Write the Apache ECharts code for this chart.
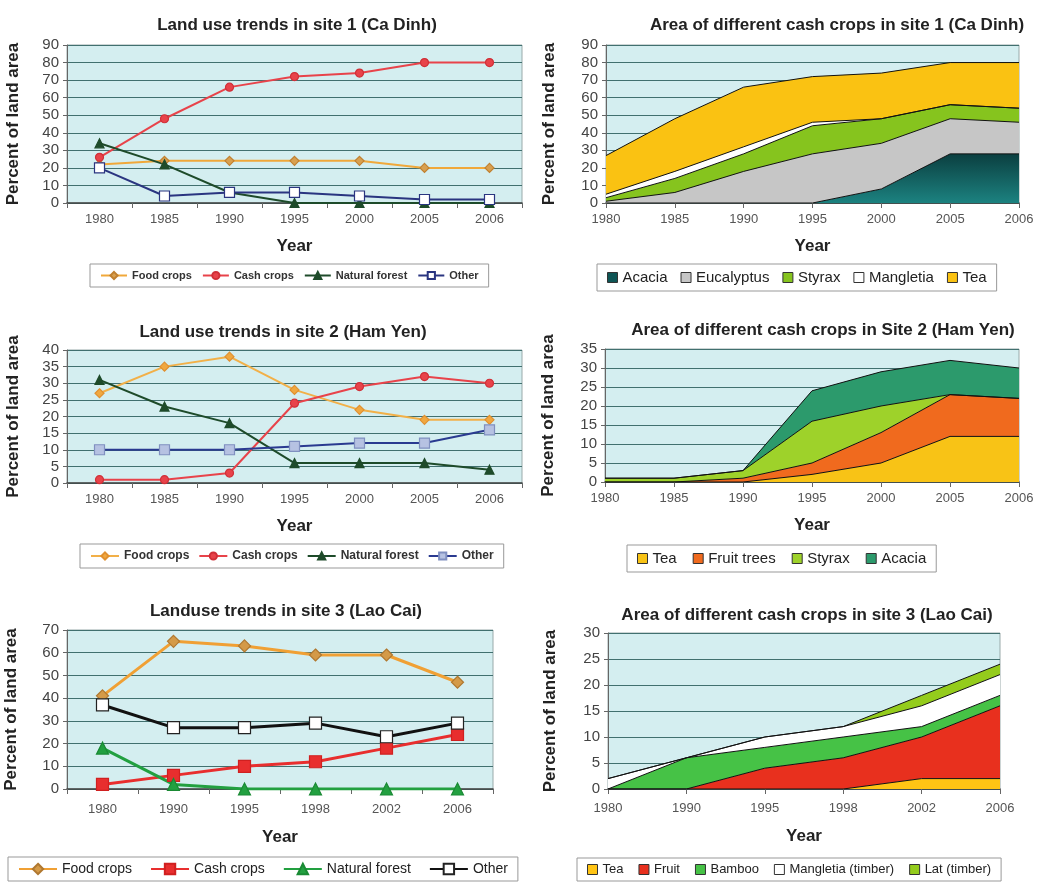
<!DOCTYPE html>
<html><head><meta charset="utf-8">
<script src="https://cdn.jsdelivr.net/npm/echarts@6/dist/echarts.min.js"></script>
<style>html,body{margin:0;padding:0;background:#fff}#c{width:1038px;height:884px}</style>
</head><body><div id="c"></div><script>
// ---- categories ----
const years1 = ['1980','1985','1990','1995','2000','2005','2006'];
const years3 = ['1980','1990','1995','1998','2002','2006'];

// ---- Site 1 land use ----
const s1Food   = [22, 24, 24, 24, 24, 20, 20];
const s1Cash   = [26, 48, 66, 72, 74, 80, 80];
const s1Forest = [34, 22, 6, 0, 0, 0, 0];
const s1Other  = [20, 4, 6, 6, 4, 2, 2];

// ---- Site 1 cash crops (stacked) ----
const c1Acacia     = [0, 0, 0, 0, 8, 28, 28];
const c1Eucalyptus = [1, 6, 18, 28, 26, 20, 18];
const c1Styrax     = [2, 8, 10, 16, 14, 8, 8];
const c1Mangletia  = [2, 4, 4, 2, 0, 0, 0];
const c1Tea        = [22, 30, 34, 26, 26, 24, 26];

// ---- Site 2 land use ----
const s2Food   = [27, 35, 38, 28, 22, 19, 19];
const s2Cash   = [1, 1, 3, 24, 29, 32, 30];
const s2Forest = [31, 23, 18, 6, 6, 6, 4];
const s2Other  = [10, 10, 10, 11, 12, 12, 16];

// ---- Site 2 cash crops (stacked) ----
const c2Tea    = [0, 0, 0, 2, 5, 12, 12];
const c2Fruit  = [0, 0, 1, 3, 8, 11, 10];
const c2Styrax = [1, 1, 2, 11, 7, 0, 0];
const c2Acacia = [0, 0, 0, 8, 9, 9, 8];

// ---- Site 3 land use ----
const s3Food   = [41, 65, 63, 59, 59, 47];
const s3Cash   = [2, 6, 10, 12, 18, 24];
const s3Forest = [18, 2, 0, 0, 0, 0];
const s3Other  = [37, 27, 27, 29, 23, 29];

// ---- Site 3 cash crops (stacked) ----
const c3Tea       = [0, 0, 0, 0, 2, 2];
const c3Fruit     = [0, 0, 4, 6, 8, 14];
const c3Bamboo    = [0, 6, 4, 4, 2, 2];
const c3Mangletia = [2, 0, 2, 2, 4, 4];
const c3Lat       = [0, 0, 0, 0, 2, 2];

// ---- titles / names ----
const titles = [
  'Land use trends in site 1 (Ca Dinh)',
  'Area of different cash crops in site 1 (Ca Dinh)',
  'Land use trends in site 2 (Ham Yen)',
  'Area of different cash crops in Site 2 (Ham Yen)',
  'Landuse trends in site 3 (Lao Cai)',
  'Area of different cash crops in site 3 (Lao Cai)'
];
const lineNames = ['Food crops','Cash crops','Natural forest','Other'];
const crops1 = ['Acacia','Eucalyptus','Styrax','Mangletia','Tea'];
const crops2 = ['Tea','Fruit trees','Styrax','Acacia'];
const crops3 = ['Tea','Fruit','Bamboo','Mangletia (timber)','Lat (timber)'];
const yName = 'Percent of land area';
const xName = 'Year';

const FONT = "'Liberation Sans', Arial, sans-serif";
const chart = echarts.init(document.getElementById('c'), null, {renderer: 'canvas'});

const PLOT_BG = '#D4EEF0';
const GRIDLINE = '#41706F';

const grids = [
  {left: 67,  top: 45,  width: 455, height: 158},
  {left: 606, top: 45,  width: 413, height: 158},
  {left: 67,  top: 350, width: 455, height: 133},
  {left: 605, top: 349, width: 414, height: 133},
  {left: 67,  top: 630, width: 426, height: 159},
  {left: 608, top: 633, width: 392, height: 156}
].map(g => Object.assign({show: true, backgroundColor: PLOT_BG, borderColor: '#9aa', borderWidth: 1, containLabel: false}, g));

function yAx(gi, max, interval, gap) {
  return {
    type: 'value', gridIndex: gi, min: 0, max: max, interval: interval,
    name: yName, nameLocation: 'middle', nameGap: gap,
    nameTextStyle: {fontSize: 17, fontWeight: 'bold', color: '#222', fontFamily: FONT},
    axisLine: {show: true, lineStyle: {color: '#666'}},
    axisTick: {show: true, length: 4, lineStyle: {color: '#666'}},
    axisLabel: {fontSize: 15, color: '#444', margin: 8, fontFamily: FONT},
    splitLine: {show: true, lineStyle: {color: GRIDLINE, width: 1}}
  };
}
function xAx(gi, data, bgap, margin, gap) {
  return {
    type: 'category', gridIndex: gi, data: data, boundaryGap: bgap,
    name: xName, nameLocation: 'middle', nameGap: gap,
    nameTextStyle: {fontSize: 17, fontWeight: 'bold', color: '#222', fontFamily: FONT},
    axisLine: {show: true, lineStyle: {color: '#444', width: 1.5}},
    axisTick: {show: true, length: 5, lineStyle: {color: '#666'}},
    axisLabel: {fontSize: 13, color: '#555', margin: margin, fontFamily: FONT, interval: 0},
    splitLine: {show: false}
  };
}

// style specs: [symbol, line colour, symbol fill, symbol border, line width, symbol size]
const st = {
  p1: {
    'Food crops':     ['diamond', '#F0A83A', '#D8A050', '#C08030', 2, 9],
    'Cash crops':     ['circle', '#E8434A', '#E8434A', '#D03038', 2, 8],
    'Natural forest': ['triangle', '#1E4B2A', '#1E4B2A', '#1E4B2A', 2, 9],
    'Other':          ['rect', '#2A3580', '#FFFFFF', '#2A3580', 2, 10]
  },
  p3: {
    'Food crops':     ['diamond', '#F2B048', '#F0A840', '#E09030', 2, 9],
    'Cash crops':     ['circle', '#E8434A', '#E8434A', '#D03038', 2, 8],
    'Natural forest': ['triangle', '#1E4B2A', '#1E4B2A', '#1E4B2A', 2, 9],
    'Other':          ['rect', '#2A3A90', '#B6C2E2', '#8090C0', 2, 10]
  },
  p5: {
    'Food crops':     ['diamond', '#F0A034', '#D49A48', '#B07830', 3, 12],
    'Cash crops':     ['rect', '#E82E2E', '#E82E2E', '#D02020', 3, 12],
    'Natural forest': ['triangle', '#22A040', '#22A040', '#1A8A34', 3, 12],
    'Other':          ['rect', '#111111', '#FFFFFF', '#222222', 3, 12]
  }
};
const acaciaGrad = new echarts.graphic.LinearGradient(0, 0, 0, 1, [
  {offset: 0, color: '#0B3F40'}, {offset: 1, color: '#1C8280'}
]);
const areaCol = {
  p2: {'Acacia': acaciaGrad, 'Eucalyptus': '#C6C6C6', 'Styrax': '#86C41E', 'Mangletia': '#FFFFFF', 'Tea': '#FAC212'},
  p4: {'Tea': '#F8C316', 'Fruit trees': '#F06A1E', 'Styrax': '#9ED22A', 'Acacia': '#2C9A6C'},
  p6: {'Tea': '#FFC414', 'Fruit': '#E8301E', 'Bamboo': '#46C246', 'Mangletia (timber)': '#FFFFFF', 'Lat (timber)': '#94CC1C'}
};
const SEP = '#';
const key = (panel, name) => name + SEP + panel;   // unique series id per panel; legend shows only the name

function L(panel, gi, name, data) {
  const s = st[panel][name];
  return {
    type: 'line', name: key(panel, name), xAxisIndex: gi, yAxisIndex: gi, data: data,
    symbol: s[0], symbolSize: s[5], showSymbol: true,
    lineStyle: {color: s[1], width: s[4]},
    itemStyle: {color: s[2], borderColor: s[3], borderWidth: 1.2},
    emphasis: {disabled: true}, animation: false, z: 3
  };
}
function A(panel, gi, name, data) {
  const c = areaCol[panel][name];
  return {
    type: 'line', name: key(panel, name), xAxisIndex: gi, yAxisIndex: gi, data: data, stack: panel,
    symbol: 'none', showSymbol: false,
    lineStyle: {color: '#111', width: 1},
    areaStyle: {color: c, opacity: 1},
    itemStyle: {color: c, borderColor: '#222', borderWidth: 1},
    emphasis: {disabled: true}, animation: false, z: 2
  };
}
function legArea(panel, name) {
  let c = areaCol[panel][name];
  if (typeof c !== 'string') c = '#0E5555';
  return {name: key(panel, name), icon: 'rect', itemStyle: {color: c, borderColor: '#333', borderWidth: 1}};
}

const series = [
  L('p1', 0, 'Food crops', s1Food),
  L('p1', 0, 'Cash crops', s1Cash),
  L('p1', 0, 'Natural forest', s1Forest),
  L('p1', 0, 'Other', s1Other),
  A('p2', 1, 'Acacia', c1Acacia),
  A('p2', 1, 'Eucalyptus', c1Eucalyptus),
  A('p2', 1, 'Styrax', c1Styrax),
  A('p2', 1, 'Mangletia', c1Mangletia),
  A('p2', 1, 'Tea', c1Tea),
  L('p3', 2, 'Food crops', s2Food),
  L('p3', 2, 'Cash crops', s2Cash),
  L('p3', 2, 'Natural forest', s2Forest),
  L('p3', 2, 'Other', s2Other),
  A('p4', 3, 'Tea', c2Tea),
  A('p4', 3, 'Fruit trees', c2Fruit),
  A('p4', 3, 'Styrax', c2Styrax),
  A('p4', 3, 'Acacia', c2Acacia),
  L('p5', 4, 'Food crops', s3Food),
  L('p5', 4, 'Cash crops', s3Cash),
  L('p5', 4, 'Natural forest', s3Forest),
  L('p5', 4, 'Other', s3Other),
  A('p6', 5, 'Tea', c3Tea),
  A('p6', 5, 'Fruit', c3Fruit),
  A('p6', 5, 'Bamboo', c3Bamboo),
  A('p6', 5, 'Mangletia (timber)', c3Mangletia),
  A('p6', 5, 'Lat (timber)', c3Lat)
];

function legendBox(data, left, top, opts) {
  return Object.assign({
    show: true, left: left, top: top, orient: 'horizontal',
    data: data,
    formatter: n => n.split(SEP)[0],
    borderColor: '#999', borderWidth: 1, padding: [6, 10],
    itemGap: 10,
    selectedMode: false
  }, opts);
}

const option = {
  animation: false,
  backgroundColor: '#ffffff',
  textStyle: {fontFamily: FONT},
  title: titles.map((t, i) => ({
    text: t, textAlign: 'center',
    left: [292, 832, 278, 818, 281, 802][i],
    top: [12, 12, 319, 317, 598, 602][i],
    textStyle: {fontSize: 17, fontWeight: 'bold', color: '#222', fontFamily: FONT}
  })),
  grid: grids,
  xAxis: [
    xAx(0, years1, true, 10, 35),
    xAx(1, years1, false, 10, 35),
    xAx(2, years1, true, 10, 35),
    xAx(3, years1, false, 10, 35),
    xAx(4, years3, true, 14, 40),
    xAx(5, years3, false, 13, 39)
  ],
  yAxis: [
    yAx(0, 90, 10, 45),
    yAx(1, 90, 10, 48),
    yAx(2, 40, 5, 45),
    yAx(3, 35, 5, 48),
    yAx(4, 70, 10, 47),
    yAx(5, 30, 5, 49)
  ],
  legend: [
    legendBox(lineNames.map(n => key('p1', n)), 90, 264,
      {textStyle: {fontSize: 11, fontWeight: 'bold', color: '#333', fontFamily: FONT}, itemWidth: 26, itemHeight: 9, itemGap: 10}),
    legendBox(crops1.map(n => legArea('p2', n)), 597, 264,
      {itemWidth: 10, itemHeight: 10, itemGap: 13, textStyle: {fontSize: 15, color: '#222', fontFamily: FONT}}),
    legendBox(lineNames.map(n => key('p3', n)), 80, 544,
      {textStyle: {fontSize: 12, fontWeight: 'bold', color: '#333', fontFamily: FONT}, itemWidth: 28, itemHeight: 9, itemGap: 9}),
    legendBox(crops2.map(n => legArea('p4', n)), 627, 545,
      {itemWidth: 10, itemHeight: 10, itemGap: 16, textStyle: {fontSize: 15, color: '#222', fontFamily: FONT}}),
    legendBox(lineNames.map(n => key('p5', n)), 8, 857,
      {textStyle: {fontSize: 14, color: '#222', fontFamily: FONT}, itemWidth: 38, itemHeight: 13, itemGap: 18, padding: [5, 10]}),
    legendBox(crops3.map(n => legArea('p6', n)), 577, 858,
      {itemWidth: 10, itemHeight: 10, itemGap: 15, textStyle: {fontSize: 13, color: '#222', fontFamily: FONT}, padding: [5, 10]})
  ],
  series: series
};
chart.setOption(option);
</script></body></html>
